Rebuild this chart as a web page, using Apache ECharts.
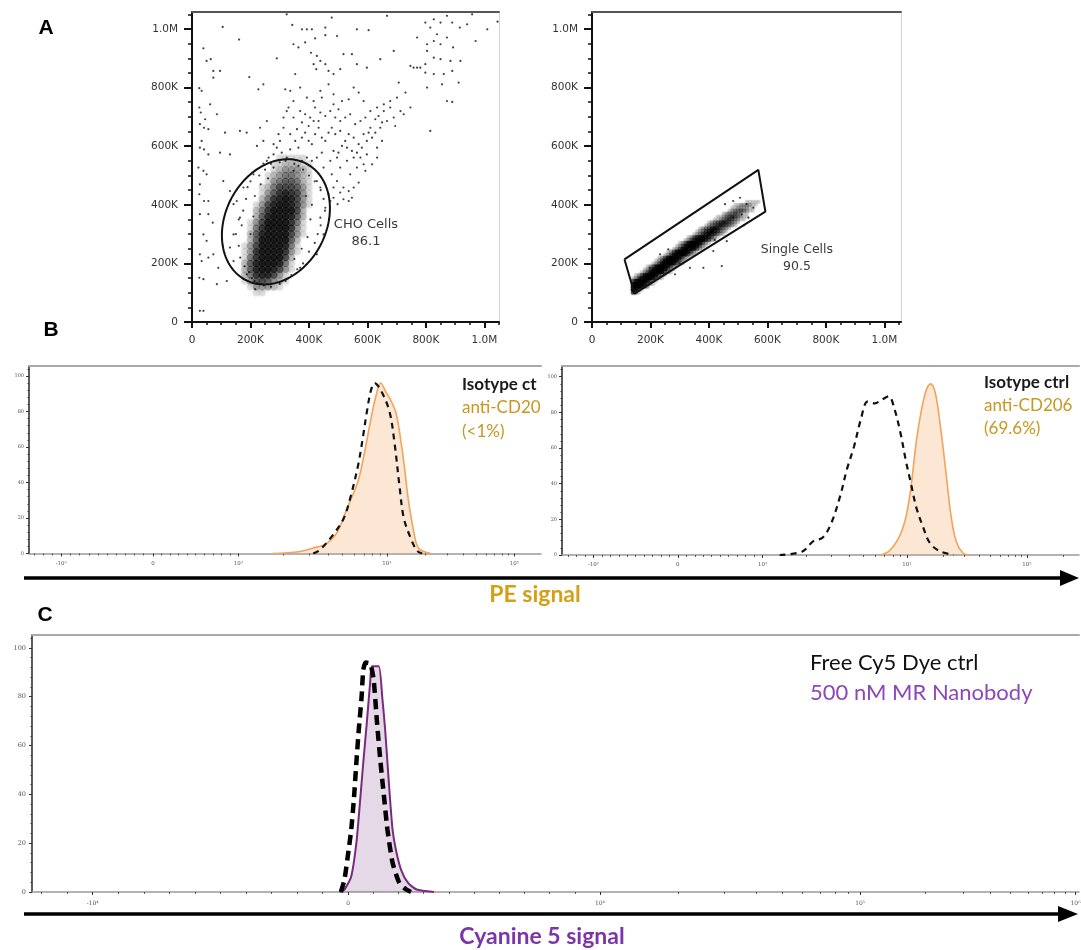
<!DOCTYPE html>
<html>
<head>
<meta charset="utf-8">
<title>Flow cytometry: gating, PE staining and Cy5 nanobody binding</title>
<script src="https://cdn.jsdelivr.net/npm/echarts@6.0.0/dist/echarts.min.js"></script>
<style>
  html, body { margin: 0; padding: 0; background: #ffffff; }
  #chart { width: 1081px; height: 950px; }
</style>
</head>
<body>
<div id="chart"></div>
<script>
// ================= Panel A: gating plots (axis units: thousands) =================
const scatterMajorTicks = [0, 200, 400, 600, 800, 1000];

// Main CHO population (FSC-A vs SSC-A): one row per 20K of SSC-A,
// [SSC-A, first FSC-A cell, density digit 0-9 for each 20K FSC-A cell]
const choCoreRows = [
  [560, 160, "000000011111000"],
  [540, 160, "000000112221100"],
  [520, 160, "000000123332100"],
  [500, 160, "000001234432100"],
  [480, 160, "000001345542100"],
  [460, 160, "000012466653100"],
  [440, 160, "000013578763100"],
  [420, 160, "000024789863100"],
  [400, 160, "000136899863100"],
  [380, 160, "000247999962000"],
  [360, 160, "000258999852000"],
  [340, 160, "001369999741000"],
  [320, 160, "001479999731000"],
  [300, 160, "002589999631000"],
  [280, 160, "002599999520000"],
  [260, 160, "013699998410000"],
  [240, 160, "013799997310000"],
  [220, 160, "014799996200000"],
  [200, 160, "025899984100000"],
  [180, 160, "025899863100000"],
  [160, 160, "024788631000000"],
  [140, 160, "013565321000000"],
  [120, 160, "001333210000000"],
  [100, 160, "000110000000000"]
];

// Sparse events around the main population [FSC-A, SSC-A]
const choOutliers = [
  [105,1007],[161,964],[39,934],[50,891],[73,857],[96,857],[64,897],[196,836],[290,900],[324,1050],
  [343,1014],[376,999],[393,999],[410,999],[421,968],[456,1005],[456,979],[478,1039],[496,976],[347,948],
  [364,937],[387,954],[407,919],[427,908],[439,891],[416,880],[425,863],[456,880],[467,857],[484,846],
  [507,863],[518,914],[547,914],[564,999],[604,996],[564,880],[598,868],[644,897],[667,1045],[690,925],
  [707,817],[730,783],[770,971],[798,1022],[815,1005],[838,982],[827,1033],[850,1022],[872,1045],[890,1022],
  [916,1005],[941,1016],[958,1050],[970,959],[827,959],[850,948],[872,971],[893,937],[804,925],[827,902],
  [850,897],[884,891],[918,891],[798,880],[770,868],[747,874],[781,868],[798,851],[827,846],[861,846],
  [890,857],[912,817],[855,811],[872,754],[890,751],[815,652],[804,800],[758,868],[804,948],[1010,999],
  [1045,1025],
  [319,794],[336,789],[353,846],[370,800],[393,766],[416,754],[439,789],[444,766],[467,811],[484,777],
  [513,754],[536,760],[553,800],[570,783],[587,754],[610,720],[633,732],[656,743],[678,754],[701,766],
  [713,720],[627,692],[638,703],[650,681],[690,698],[724,709],[747,732],
  [25,798],[33,789],[25,732],[30,715],[62,743],[45,692],[27,675],[41,663],[56,658],[33,618],
  [27,595],[41,589],[56,572],[22,527],[39,516],[50,504],[27,470],[25,436],[41,413],[56,413],
  [27,368],[56,368],[71,339],[39,299],[50,277],[27,231],[56,220],[33,208],[25,151],[39,146],
  [27,38],[39,38],[73,834],[96,578],[130,572],[113,646],[85,709],[107,481],[130,447],[142,402],
  [73,231],[90,185],[85,129],[119,140],[216,112],[164,652],[187,646],[233,663],[227,794],[244,811],
  [256,686],[222,601],[262,561],[244,541],[279,607],[301,618],[313,663],[336,641],[324,720],[347,698],
  [279,572],[290,595],[307,578],[324,561],[336,589],[353,618],[364,595],[376,629],[387,646],[399,618],
  [410,607],[421,641],[433,663],[444,629],[456,618],[467,646],[478,663],[490,641],[507,652],[524,618],
  [536,641],[553,629],[570,607],[581,595],[598,618],[616,629],[633,595],[650,618],[598,572],[576,561],
  [553,561],[530,550],[507,527],[541,504],[564,527],[587,538],[496,561],[473,550],[450,527],[478,504],
  [496,481],[518,459],[536,447],[547,424],[507,442],[484,459],[467,436],[370,720],[387,709],[404,698],
  [421,732],[439,715],[456,703],[473,720],[490,698],[507,686],[524,698],[541,709],[558,675],[576,686],
  [593,698],[610,663],[627,646],[644,663],[667,686],[484,743],[501,726],[416,686],[433,686],[399,669],
  [376,681],[359,658],[347,754],[330,732],[313,698],[296,641],[279,527],[256,550],[244,618],[530,595],
  [547,584],[564,578],[587,641],[604,646],[656,720],[678,732],[695,669],[633,561],[616,538],[593,516],
  [570,476],[553,459],[536,413],[518,419],[498,402],[473,413],[456,390],[439,459],[427,481],[484,584],
  [501,578],[513,601],[444,578],[427,561],[410,550],[393,561],[376,550],[364,533],[347,516],
  [142,299],[164,356],[130,254],[187,163],[222,134],[153,413],[176,459],[210,504],[142,208],[439,356],
  [450,299],[427,231],[370,185],[484,424],
  [150,300],[160,260],[170,330],[175,380],[185,420],[165,220],[180,190],[195,170],[205,150],[215,140],
  [160,350],[190,460],[200,480],[230,500],[250,520],[270,540],[300,545],[320,550],[350,540],[380,520],
  [400,500],[420,480],[440,450],[450,420],[455,380],[440,330],[430,300],[420,270],[400,240],[380,200],
  [360,180],[340,160],[320,140],[300,130],[270,120],[245,125],[230,130],[390,430],[410,400],[405,350],
  [395,290],[375,250],[350,215],[210,360],[200,300],[215,430],[235,470],[260,490]
];

// Singlet band (FSC-A vs FSC-H): one row per 10K of FSC-H,
// [FSC-H, first FSC-A cell, density digit 0-9 for each 10K FSC-A cell]
const singleCoreRows = [
  [100, 140, "531"],
  [110, 140, "9741"],
  [120, 140, "999742"],
  [130, 140, "79997421"],
  [140, 140, "479997421"],
  [150, 140, "12479997421"],
  [160, 150, "12479997421"],
  [170, 170, "12479997421"],
  [180, 180, "12479997421"],
  [190, 190, "12479997421"],
  [200, 210, "12479997421"],
  [210, 220, "12479997421"],
  [220, 230, "12479997421"],
  [230, 250, "12479997421"],
  [240, 260, "12479997421"],
  [250, 280, "12479997421"],
  [260, 290, "12479997421"],
  [270, 300, "12479997421"],
  [280, 320, "12468886421"],
  [290, 330, "12467876421"],
  [300, 350, "12356865321"],
  [310, 360, "12356865321"],
  [320, 370, "12346764321"],
  [330, 390, "12345654321"],
  [340, 400, "12345654321"],
  [350, 420, "11234543211"],
  [360, 430, "11234543211"],
  [370, 440, "01233432110"],
  [380, 460, "01233432110"],
  [390, 470, "01122221100"],
  [400, 480, "01122221100"],
  [410, 520, "0111110"]
];

const singleOutliers = [
  [261,248],[335,185],[381,185],[444,191],[284,163],[415,242],[461,276],[483,413],[506,424],[529,402],
  [552,390],[483,356],[512,367],[535,356],[455,402],[233,231],[198,185],[164,151],[300,200],[420,280],
  [520,330]
];

// Gates
const gateNames = ['CHO Cells', 'Single Cells'];
const gatePercents = [86.1, 90.5];
const choEllipse = { cx: 287, cy: 342, a: 224, b: 172, tilt: 28 };   // tilt in degrees from vertical
const singletPolygonX = [111, 569, 593, 145, 111];
const singletPolygonY = [214, 519, 377, 97, 214];

// ================= Panel B/C: histograms (x in display channels 0-1000, y in % of max) =================
const cd20TickLabels = ['-10³', '0', '10³', '10⁴', '10⁵'];
const cd20TickValues = [-1e3, 0, 1e3, 1e4, 1e5];
const cd20TickChannels = [63, 242, 409, 699, 948];

const cd206TickLabels = ['-10²', '0', '10³', '10⁴', '10⁵'];
const cd206TickValues = [-1e2, 0, 1e3, 1e4, 1e5];
const cd206TickChannels = [61, 224, 388, 667, 899];

const cy5TickLabels = ['-10⁴', '0', '10⁴', '10⁵', '10⁶'];
const cy5TickValues = [-1e4, 0, 1e4, 1e5, 1e6];
const cy5TickChannels = [58, 302, 542.5, 791, 996.7];

const histYTicks = [0, 20, 40, 60, 80, 100];

const cd20Stained = [[476,0],[527,1],[554,3],[581,5.6],[602,12],[622,26],[643,41],[656,58],[666,73],[677,88],
  [687,96],[697,91],[707,86],[717,79],[727,62],[734,47],[741,30],[751,13],[761,3],[785,0]];
const cd20Isotype = [[555,0],[568,2],[595,11],[615,20],[629,33],[643,50],[653,67],[660,80],[668,92],[675,96],
  [687,92],[704,80],[714,62],[724,37],[732,20],[745,9],[758,1.5],[768,0]];

const cd206Stained = [[615,0],[632,2],[652,10],[665,21],[675,38],[685,63],[695,81],[705,93],[713,96],[722,91],
  [732,72],[742,48],[752,23],[762,8],[775,1.3],[788,0]];
const cd206Isotype = [[421,0],[465,2],[485,7.5],[505,10],[521,18],[538,33],[551,48],[565,61],[578,76],[591,86],
  [605,85],[618,87],[632,89],[642,83],[655,68],[665,53],[675,40],[685,27],[698,16],[712,6.5],[732,2],[758,0]];

const cy5Nanobody = [[294,0],[298.4,1],[304.9,6.4],[309.8,20],[313.1,36],[316.4,53],[319.7,69],[323,86],[324.6,92.5],
  [331.2,92.5],[334.5,80],[337.2,67],[339.5,53],[341.8,39],[344.4,25.5],[347.7,17],[352.6,9],[359.2,3.7],[367.4,1],[383.9,0]];
const cy5FreeDye = [[295,0],[298.4,5],[301.6,14.6],[304.9,25.5],[307.6,39],[309.8,53],[312.1,66.5],[314.8,80],[316.4,91],
  [318.7,94],[323,93.6],[326.3,87],[329.6,69],[332.9,53],[336.2,39],[339.5,25.5],[344.4,12],[350.9,3.7],[357.5,1],[362,0]];

// ================= helpers =================
const GOLD = '#C9961F';
const PE_GOLD = '#D4A017';
const PURPLE_TEXT = '#8B48B8';
const PURPLE_AXIS = '#7B35A8';

function steps(from, to, step) {
  const t = [];
  for (let v = from; v <= to + 1e-9; v += step) t.push(+v.toFixed(3));
  return t;
}

function densityData(rows, cell) {
  const out = [];
  rows.forEach(([y, x0, cells]) => {
    for (let i = 0; i < cells.length; i++) {
      const d = +cells[i];
      if (d > 0) out.push([x0 + i * cell, y, d]);
    }
  });
  return out;
}

// minor ticks of a biexponential display axis: log steps inside decades, linear steps elsewhere
function displayMinorTicks(values, channels) {
  const out = [];
  for (let i = 0; i < channels.length - 1; i++) {
    const a = channels[i], b = channels[i + 1];
    if (values[i] > 0 && values[i + 1] === values[i] * 10) {
      for (let k = 2; k <= 9; k++) out.push(a + Math.log10(k) * (b - a));
    } else {
      for (let j = 1; j < 10; j++) out.push(a + j * (b - a) / 10);
    }
  }
  const n = channels.length;
  const w = channels[n - 1] - channels[n - 2];
  for (let k = 2; k <= 9; k++) {
    const c = channels[n - 1] + Math.log10(k) * w;
    if (c <= 1000) out.push(c);
  }
  const s = (channels[1] - channels[0]) / 10;
  for (let c = channels[0] - s; c >= 0; c -= s) out.push(c);
  return out;
}

function kLabel(v) {
  if (v === 0) return '0';
  return v >= 1000 ? (v / 1000).toFixed(1) + 'M' : v + 'K';
}

const grids = [], xAxes = [], yAxes = [], series = [];

function axisSet(gi, s, dim) {
  const list = dim === 'x' ? xAxes : yAxes;
  const mainPos = dim === 'x' ? 'bottom' : 'left';
  const framePos = dim === 'x' ? 'top' : 'right';
  const base = () => ({ gridIndex: gi, type: 'value', min: s.min, max: s.max,
    splitLine: { show: false }, minorTick: { show: false }, minorSplitLine: { show: false } });
  list.push(Object.assign(base(), {
    position: mainPos,
    axisLine: { show: true, onZero: false, lineStyle: { color: s.line, width: s.lineWidth } },
    axisTick: { show: true, customValues: s.major, length: s.majorLen, lineStyle: { color: s.tick, width: s.tickWidth } },
    axisLabel: { show: true, customValues: s.labels, formatter: s.format, margin: s.margin,
      color: s.labelColor, fontSize: s.fontSize, fontFamily: s.font, hideOverlap: false }
  }));
  list.push(Object.assign(base(), {
    position: mainPos,
    axisLine: { show: false, onZero: false },
    axisTick: { show: true, customValues: s.minor, length: s.minorLen, lineStyle: { color: s.tick, width: s.minorWidth } },
    axisLabel: { show: false }
  }));
  list.push(Object.assign(base(), {
    position: framePos,
    axisLine: { show: !!s.frame, onZero: false, lineStyle: { color: s.frame || '#fff', width: s.frameWidth || 1 } },
    axisTick: { show: false }, axisLabel: { show: false }
  }));
}

function addPanel(rect, xs, ys) {
  const gi = grids.length;
  grids.push(Object.assign({ show: false, containLabel: false, outerBoundsMode: 'none' }, rect));
  axisSet(gi, xs, 'x');
  axisSet(gi, ys, 'y');
  return { xAxisIndex: gi * 3, yAxisIndex: gi * 3 };
}

// soft blotches: each density cell becomes a blurred disc whose opacity follows its digit
function dotRenderer(cell, spread, gain, blur) {
  return function (params, api) {
    const c = api.coord([api.value(0), api.value(1)]);
    const s = api.size([cell, cell]);
    return {
      type: 'circle',
      shape: { cx: c[0], cy: c[1], r: s[0] * spread },
      style: { fill: '#000', opacity: Math.min(1, api.value(2) / 9 * gain), shadowBlur: s[0] * blur, shadowColor: '#000' }
    };
  };
}

function gateLabel(ax, idx, at, fontSize) {
  return Object.assign({
    type: 'custom', silent: true, z: 6,
    data: [at],
    renderItem: (params, api) => {
      const c = api.coord([api.value(0), api.value(1)]);
      return {
        type: 'text', x: c[0], y: c[1],
        style: { text: gateNames[idx] + '\n' + gatePercents[idx], font: fontSize + 'px "DejaVu Sans"', fill: '#3a3a3a',
          textAlign: 'center', textVerticalAlign: 'middle', align: 'center', verticalAlign: 'middle', lineHeight: 17 }
      };
    }
  }, ax);
}

// ---- axis styles ----
function scatterX(max) {
  return { min: 0, max, major: scatterMajorTicks, minor: steps(0, 1050, 50), labels: scatterMajorTicks, format: kLabel,
    line: '#111', lineWidth: 2, tick: '#111', tickWidth: 2, majorLen: 6, minorLen: 3, minorWidth: 1.5,
    margin: 13, labelColor: '#333', fontSize: 10.5, font: 'DejaVu Sans', frame: '#555', frameWidth: 2 };
}
function scatterY(max) {
  return { min: 0, max, major: scatterMajorTicks, minor: steps(0, 1050, 50), labels: scatterMajorTicks, format: kLabel,
    line: '#111', lineWidth: 2, tick: '#111', tickWidth: 2, majorLen: 8, minorLen: 4, minorWidth: 1.5,
    margin: 14, labelColor: '#333', fontSize: 10.5, font: 'DejaVu Sans', frame: '#d6d6d6', frameWidth: 1 };
}
function histX(labels, values, channels, fontSize, margin) {
  const map = {};
  channels.forEach((c, i) => { map[c] = labels[i]; });
  return { min: 0, max: 1000, major: channels, minor: displayMinorTicks(values, channels), labels: channels,
    format: v => (map[v] !== undefined ? map[v] : ''),
    line: '#9a9a9a', lineWidth: 1.5, tick: '#333', tickWidth: 1, majorLen: 3, minorLen: 2, minorWidth: 0.8,
    margin, labelColor: '#555', fontSize, font: 'DejaVu Serif', frame: '#a9a9a9', frameWidth: 2 };
}
function histY(max, fontSize, margin) {
  return { min: 0, max, major: histYTicks, minor: steps(0, 104, 4), labels: histYTicks, format: v => String(v),
    line: '#333', lineWidth: 1.6, tick: '#333', tickWidth: 1, majorLen: 3, minorLen: 1.6, minorWidth: 0.8,
    margin, labelColor: '#555', fontSize, font: 'DejaVu Serif', frame: null };
}

// ---------- A (left): CHO cells ----------
const aLeft = addPanel({ left: 192, top: 12, width: 307, height: 310 }, scatterX(1050), scatterY(1058));
series.push(Object.assign({ type: 'custom', silent: true, z: 2, data: densityData(choCoreRows, 20),
  encode: { x: 0, y: 1 }, renderItem: dotRenderer(20, 0.62, 0.66, 0.5) }, aLeft));
series.push(Object.assign({ type: 'scatter', silent: true, z: 3, data: choOutliers, symbolSize: 2.2,
  itemStyle: { color: '#111' } }, aLeft));
series.push(Object.assign({
  type: 'custom', silent: true, z: 5, data: [[choEllipse.cx, choEllipse.cy]], encode: { x: 0, y: 1 },
  renderItem: (params, api) => {
    const g = choEllipse, th = g.tilt * Math.PI / 180, pts = [];
    for (let i = 0; i <= 160; i++) {
      const t = i / 160 * 2 * Math.PI;
      const u = g.b * Math.cos(t), v = g.a * Math.sin(t);
      pts.push(api.coord([g.cx + u * Math.cos(th) + v * Math.sin(th), g.cy - u * Math.sin(th) + v * Math.cos(th)]));
    }
    return { type: 'polygon', shape: { points: pts }, style: { fill: 'transparent', stroke: '#111', lineWidth: 2 } };
  }
}, aLeft));
series.push(gateLabel(aLeft, 0, [595, 302], 13));

// ---------- A (right): single cells ----------
const aRight = addPanel({ left: 592, top: 12, width: 309, height: 310 }, scatterX(1057), scatterY(1058));
series.push(Object.assign({ type: 'custom', silent: true, z: 2, data: densityData(singleCoreRows, 10),
  encode: { x: 0, y: 1 }, renderItem: dotRenderer(10, 0.72, 0.9, 0.55) }, aRight));
series.push(Object.assign({ type: 'scatter', silent: true, z: 3, data: singleOutliers, symbolSize: 2.2,
  itemStyle: { color: '#111' } }, aRight));
series.push(Object.assign({ type: 'line', silent: true, z: 5, symbol: 'none', smooth: false,
  data: singletPolygonX.map((x, i) => [x, singletPolygonY[i]]),
  lineStyle: { color: '#111', width: 2 } }, aRight));
series.push(gateLabel(aRight, 1, [701, 216], 12.5));

// ---------- B: PE histograms ----------
const bLeft = addPanel({ left: 29, top: 366, width: 512, height: 187.5 },
  histX(cd20TickLabels, cd20TickValues, cd20TickChannels, 5.5, 7), histY(105.6, 5, 5));
series.push(Object.assign({ type: 'line', name: 'anti-CD20', silent: true, z: 2, symbol: 'none', smooth: 0.35,
  data: cd20Stained, lineStyle: { color: '#F2A35C', width: 1.6 }, areaStyle: { color: 'rgba(244,168,104,0.40)' } }, bLeft));
series.push(Object.assign({ type: 'line', name: 'Isotype ctrl', silent: true, z: 3, symbol: 'none', smooth: 0.35,
  data: cd20Isotype, lineStyle: { color: '#111', width: 2.2, type: [6, 5] } }, bLeft));

const bRight = addPanel({ left: 562, top: 366, width: 517, height: 189 },
  histX(cd206TickLabels, cd206TickValues, cd206TickChannels, 5.5, 7), histY(106, 5, 5));
series.push(Object.assign({ type: 'line', name: 'anti-CD206', silent: true, z: 2, symbol: 'none', smooth: 0.35,
  data: cd206Stained, lineStyle: { color: '#F2A35C', width: 1.6 }, areaStyle: { color: 'rgba(244,168,104,0.40)' } }, bRight));
series.push(Object.assign({ type: 'line', name: 'Isotype ctrl', silent: true, z: 3, symbol: 'none', smooth: 0.35,
  data: cd206Isotype, lineStyle: { color: '#111', width: 2.2, type: [6, 5] } }, bRight));

// ---------- C: Cy5 nanobody histogram ----------
const cPanel = addPanel({ left: 32, top: 635, width: 1047, height: 257 },
  histX(cy5TickLabels, cy5TickValues, cy5TickChannels, 6, 8), histY(105.3, 6.5, 6));
series.push(Object.assign({ type: 'line', name: '500 nM MR Nanobody', silent: true, z: 2, symbol: 'none', smooth: 0.2,
  data: cy5Nanobody, lineStyle: { color: '#7B2A80', width: 2 }, areaStyle: { color: 'rgba(128,60,132,0.28)' } }, cPanel));
series.push(Object.assign({ type: 'line', name: 'Free Cy5 Dye ctrl', silent: true, z: 3, symbol: 'none', smooth: 0.2,
  data: cy5FreeDye, lineStyle: { color: '#000', width: 4.5, type: [10, 6] } }, cPanel));

// ---------- text and signal arrows ----------
function txt(text, x, y, font, fill, align) {
  const a = align || 'center';
  return { type: 'text', x, y, silent: true,
    style: { text, font, fill, textAlign: a, textVerticalAlign: 'middle', align: a, verticalAlign: 'middle' } };
}
const graphics = [
  txt('A', 46, 28, 'bold 21px "Liberation Sans"', '#000'),
  txt('B', 51, 330, 'bold 21px "Liberation Sans"', '#000'),
  txt('C', 45, 615, 'bold 21px "Liberation Sans"', '#000'),
  txt('Isotype ct', 462, 385, 'bold 17px Lato', '#1a1a1a', 'left'),
  txt('anti-CD20', 462, 408, '17px Lato', GOLD, 'left'),
  txt('(<1%)', 462, 432, '17px Lato', GOLD, 'left'),
  txt('Isotype ctrl', 984, 383, 'bold 17px Lato', '#1a1a1a', 'left'),
  txt('anti-CD206', 984, 406, '17px Lato', GOLD, 'left'),
  txt('(69.6%)', 984, 429, '17px Lato', GOLD, 'left'),
  txt('Free Cy5 Dye ctrl', 810, 663, '22px Lato', '#111', 'left'),
  txt('500 nM MR Nanobody', 810, 693, '22px Lato', PURPLE_TEXT, 'left'),
  txt('PE signal', 535, 595, 'bold 23px Lato', PE_GOLD),
  txt('Cyanine 5 signal', 542, 937, 'bold 23px Lato', PURPLE_AXIS),
  { type: 'line', silent: true, shape: { x1: 24, y1: 578, x2: 1064, y2: 578 }, style: { stroke: '#000', lineWidth: 3.5 } },
  { type: 'polygon', silent: true, shape: { points: [[1060, 570], [1079, 578], [1060, 586]] }, style: { fill: '#000' } },
  { type: 'line', silent: true, shape: { x1: 24, y1: 914, x2: 1062, y2: 914 }, style: { stroke: '#000', lineWidth: 3.5 } },
  { type: 'polygon', silent: true, shape: { points: [[1058, 906], [1078, 914], [1058, 922]] }, style: { fill: '#000' } }
];

const chart = echarts.init(document.getElementById('chart'), null, { renderer: 'canvas' });
chart.setOption({
  animation: false,
  backgroundColor: '#ffffff',
  tooltip: { show: false },
  grid: grids,
  xAxis: xAxes,
  yAxis: yAxes,
  series: series,
  graphic: { elements: graphics }
});
</script>
</body>
</html>
